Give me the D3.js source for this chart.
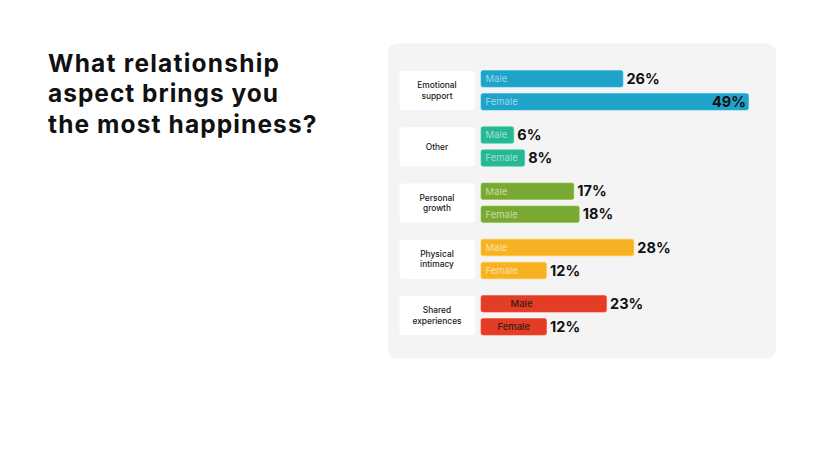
<!DOCTYPE html>
<html><head><meta charset="utf-8">
<script src="https://cdn.jsdelivr.net/npm/d3@7"></script>
<style>body{margin:0;background:#fff;}svg{display:block;font-family:"Inter","Noto Sans",sans-serif;}</style>
</head><body>
<svg id="c" width="820" height="462"></svg>
<script>
const titleLines = ["What relationship", "aspect brings you", "the most happiness?"];
const categories = [["Emotional", "support"], ["Other"], ["Personal", "growth"], ["Physical", "intimacy"], ["Shared", "experiences"]];
const genders = ["Male", "Female"];
const maleValues = [26, 6, 17, 28, 23];
const femaleValues = [49, 8, 18, 12, 12];
const colors = ["#1fa3c9", "#27b793", "#79a933", "#f8b122", "#e33d26"];
const innerTextColors = ["#9ed6e8", "#9fe0ce", "#c5dca3", "#fde0a6", "#3a1a12"];

const svg = d3.select("#c");
svg.append("rect").attr("x",0).attr("y",0).attr("width",820).attr("height",462).attr("fill","#fff");

// title
const titleWidths = [231, 230, 268.5];
const title = svg.append("text").attr("x",48).attr("y",71)
  .attr("font-size",24.5).attr("font-weight",700).attr("fill","#111");
titleLines.forEach((l,i)=>title.append("tspan").attr("x",48).attr("y",71.5+i*30.8)
  .attr("textLength",titleWidths[i]).attr("lengthAdjust","spacing").text(l));

// panel
svg.append("rect").attr("x",388).attr("y",43.5).attr("width",388).attr("height",315).attr("rx",9).attr("fill","#f4f4f4");

const y = d3.scaleBand().domain(d3.range(categories.length)).range([71-9.3, 296+56.3-9.3]).paddingInner(0).paddingOuter(0);
const x = d3.scaleLinear().domain([0,49]).range([481, 748.5]);
const barH = 16.5, barGap = 23;

const g = svg.append("g");
categories.forEach((cat,i)=>{
  const top = y(i)+9.3;
  g.append("rect").attr("x",399.5).attr("y",top).attr("width",75.5).attr("height",39).attr("rx",3).attr("fill","#fff");
  const cy = top+19.5;
  cat.forEach((line,k)=>{
    g.append("text").attr("text-anchor","middle").attr("font-size",8.4).attr("font-weight",500).attr("fill","#1a1a1a")
      .attr("x",437).attr("y", cy + 3 + (k-(cat.length-1)/2)*10.4).text(line);
  });
  const vals = [maleValues[i], femaleValues[i]];
  vals.forEach((v,j)=>{
    const by = top - 0.5 + j*barGap;
    const w = x(v)-x(0);
    g.append("rect").attr("x",x(0)).attr("y",by).attr("width",w).attr("height",barH).attr("rx",2)
      .attr("fill",colors[i]).attr("stroke", d3.color(colors[i]).brighter(0.4)).attr("stroke-width",0.6);
    const lbl = g.append("text").attr("y",by+barH/2+3.3).attr("font-size",9.5).attr("fill",innerTextColors[i]).text(genders[j]);
    if (i===categories.length-1) {
      lbl.attr("text-anchor","middle").attr("x", j===0 ? x(0)+40.5 : x(0)+w/2).attr("font-weight",500);
    } else {
      lbl.attr("x", x(0)+4.5);
    }
    const inside = v===d3.max(femaleValues.concat(maleValues));
    g.append("text").attr("x", inside ? x(v)-2.5 : x(v)+3.5).attr("y",by+barH/2+5.2)
      .attr("text-anchor", inside ? "end":"start")
      .attr("font-size",14.5).attr("font-weight",700).attr("fill","#111").text(v+"%");
  });
});
</script>
</body></html>
